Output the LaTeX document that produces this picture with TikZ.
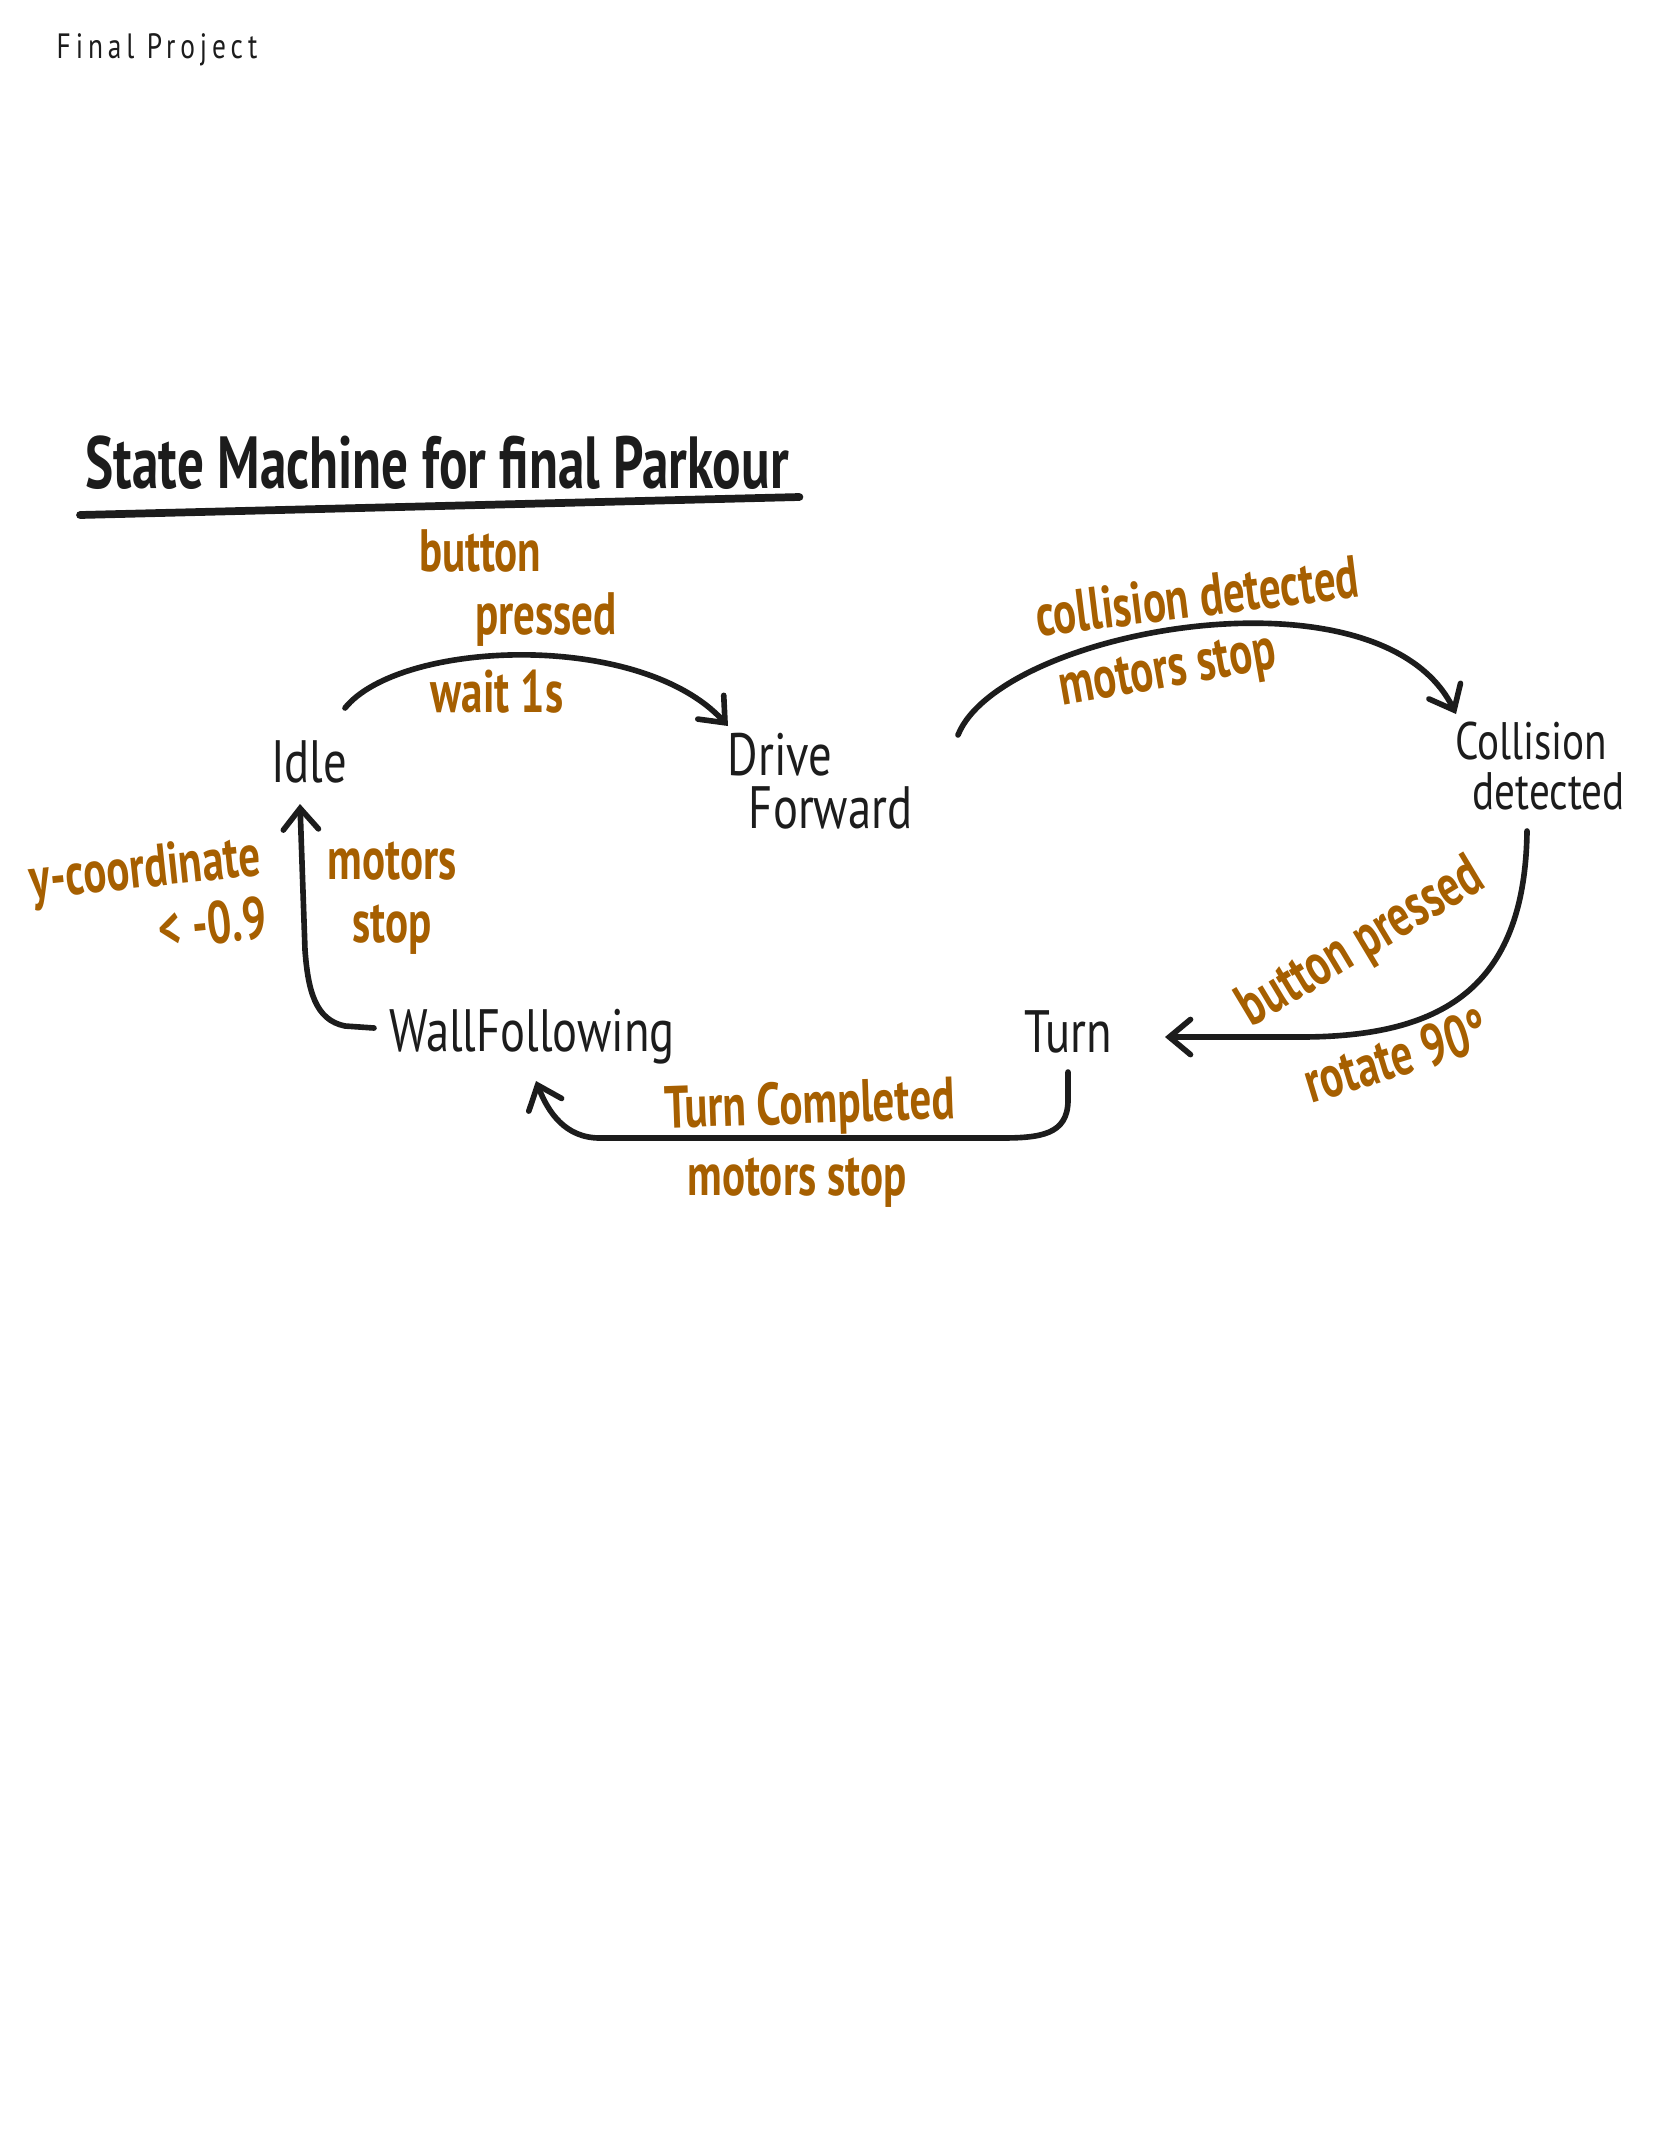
\documentclass[tikz,border=0pt]{standalone}
\usepackage{fontspec}
\setmainfont{PT Sans}
\newfontfamily\hand[FakeStretch=0.78]{PT Sans}
\newfontfamily\handbf[FakeStretch=0.72]{PT Sans Bold}
\usetikzlibrary{arrows.meta}
\definecolor{pen}{HTML}{1C1C1C}
\definecolor{ink}{HTML}{A65F00}

\begin{document}
\begin{tikzpicture}[x=0.01cm,y=-0.01cm,
  state/.style={text=pen,font=\hand\fontsize{17}{15}\selectfont,align=left,inner sep=2pt},
  cond/.style={text=ink,font=\handbf\fontsize{17}{18}\selectfont,align=center,inner sep=1pt},
  trans/.style={pen,line width=1.6pt,line cap=round,line join=round,-{Straight Barb[length=6pt,width=10pt,line width=1.6pt,line cap=round]}}]
\useasboundingbox (0,0) rectangle (1668,2154);
\node[text=pen,font=\hand\addfontfeature{LetterSpace=14}\fontsize{10}{12}\selectfont] (proj) at (157,50) {Final Project};
\node[text=pen,font=\handbf\fontsize{21}{23}\selectfont,anchor=south west,inner sep=0pt] (title) at (85,490) {State Machine for final Parkour};
\draw[pen,line width=2.2pt,line cap=round] ([shift={(-5,25)}]title.south west) -- ([shift={(10,7)}]title.south east);
\node[state] (idle) at (309,762) {Idle};
\node[state] (drive) at (820,781) {Drive\\\hspace*{6pt}Forward};
\node[state,font=\hand\fontsize{15}{14}\selectfont] (coll) at (1540,766) {Collision\\\hspace*{5pt}detected};
\node[state] (turn) at (1068,1032) {Turn};
\node[state] (wall) at (532,1037) {WallFollowing};
\draw[trans] ([shift={(36,-54)}]idle.center) .. controls (400,640) and (640,630) .. ([shift={(-92,-55)}]drive.center);
\draw[trans] ([shift={(138,-46)}]drive.center) .. controls (1000,630) and (1380,560) .. ([shift={(-84,-52)}]coll.center);
\draw[trans] ([shift={(-13,65)}]coll.center) .. controls (1525,990) and (1440,1037) .. (1300,1037) -- ([shift={(97,5)}]turn.center);
\draw[trans] ([shift={(0,40)}]turn.center) -- (1068,1100) .. controls (1068,1135) and (1040,1138) .. (1000,1138) -- (600,1138) .. controls (565,1138) and (548,1112) .. ([shift={(4,44)}]wall.center);
\draw[trans] ([shift={(-158,-9)}]wall.center) -- (345,1026) .. controls (315,1020) and (308,990) .. (305,950) -- ([shift={(-9,42)}]idle.center);
\node[cond,align=left] (bp1) at (518,588) {button\\\hspace*{16pt}pressed};
\node[cond] (w1) at (497,692) {wait 1s};
\node[cond,rotate=7] (cd) at (1197,596) {collision detected};
\node[cond,rotate=10] (ms1) at (1168,674) {motors stop};
\node[cond,rotate=31] (bp2) at (1362,944) {button pressed};
\node[cond,rotate=17] (rot) at (1396,1056) {rotate 90°};
\node[cond,rotate=2] (tc) at (810,1108) {Turn Completed};
\node[cond] (ms2) at (797,1183) {motors stop};
\node[cond,align=right,rotate=6] (yc) at (148,898) {y-coordinate\\< -0.9};
\node[cond] (ms3) at (392,898) {motors\\stop};
\end{tikzpicture}
\end{document}
